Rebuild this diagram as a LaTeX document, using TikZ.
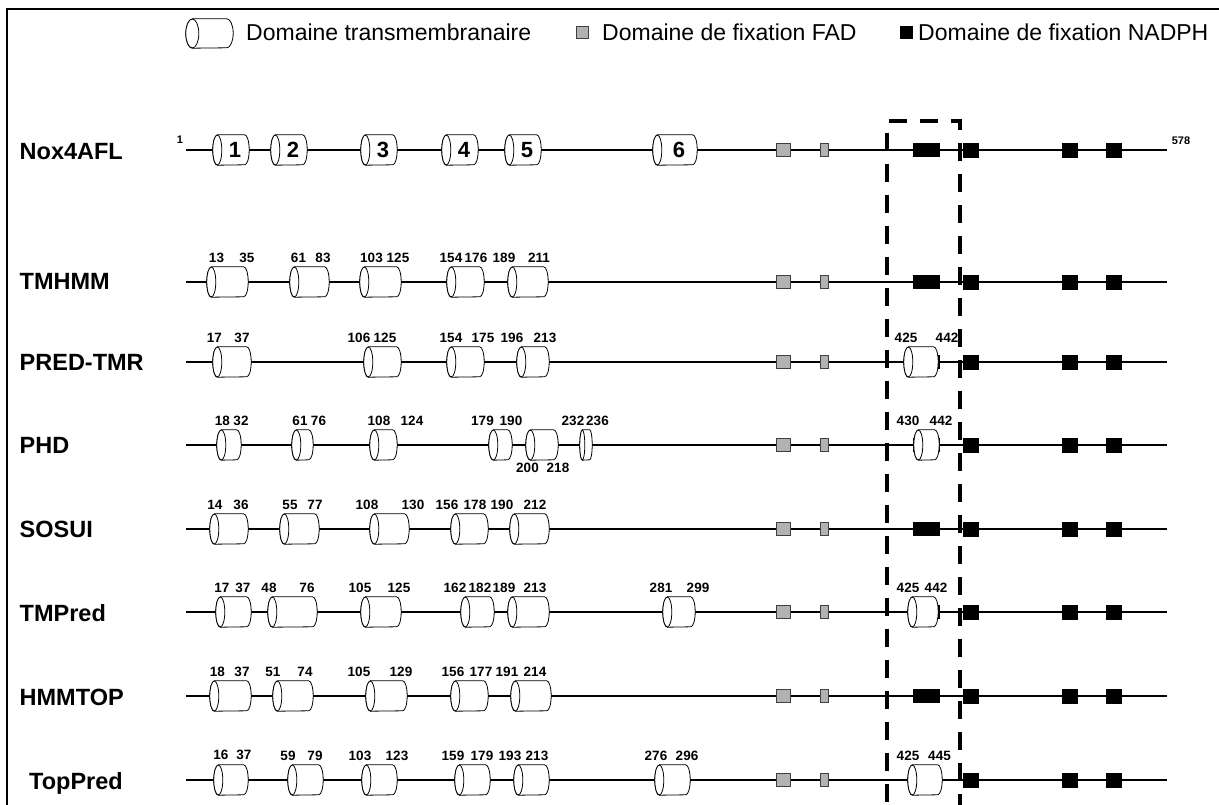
\documentclass[tikz,border=0pt]{standalone}
\usepackage{fontspec}
\setmainfont{Liberation Sans}

% radii of the helix ends
\def\tmrx{4.5pt}
\def\tmry{15pt}

% outline of a helix drawn round a (blank) node
\newcommand\cylshape[1]{%
  \path[tmline] ([xshift=\tmrx]#1.north west) -- ([xshift=-\tmrx]#1.north east)
    arc[start angle=90, end angle=-90, x radius=\tmrx, y radius=\tmry]
    -- ([xshift=\tmrx]#1.south west)
    arc[start angle=270, end angle=90, x radius=\tmrx, y radius=\tmry] -- cycle;
  \path[tmline] ([xshift=\tmrx]#1.west) ellipse[x radius=\tmrx, y radius=\tmry];
}

% name, left, right, row, first residue, its x, last residue, its x, shift of the numbers
\newcommand\helix[9]{%
  \node[tmbox, minimum width=#3pt-#2pt] (#1) at ({(#2+#3)/2},#4) {};
  \cylshape{#1}
  \node[num] (#1-a) at (#6,#4+#9) {#5};
  \node[num] (#1-b) at (#8,#4+#9) {#7};
}

% numbered helix of the full protein
\newcommand\noxhelix[4]{%
  \node[tmbox, minimum width=#3pt-#2pt] (#1) at ({(#2+#3)/2},150) {};
  \cylshape{#1}
  \node[noxnum] (#1-n) at ({(#2+#3)/2+4},150) {#4};
}

\begin{document}
\begin{tikzpicture}[
    x=1pt, y=-1pt,
    backbone/.style={line width=1.6pt},
    tmbox/.style={inner sep=0pt, minimum height=30pt},
    tmline/.style={draw=black, fill=white, line width=0.8pt},
    fad/.style={draw=black!75, fill=black!30, line width=0.6pt, inner sep=0pt, minimum height=13pt},
    nadph/.style={draw=black, fill=black, inner sep=0pt, minimum height=14pt},
    num/.style={font=\bfseries\fontsize{13.5}{14}\selectfont, inner sep=0pt},
    noxnum/.style={font=\bfseries\fontsize{22}{24}\selectfont, inner sep=0pt},
    ends/.style={font=\bfseries\fontsize{11}{12}\selectfont, inner sep=0pt},
    tool/.style={font=\bfseries\fontsize{23.5}{28}\selectfont, inner sep=0pt, anchor=base west},
    legend/.style={font=\fontsize{23}{27}\selectfont, inner sep=0pt, anchor=west},
    region/.style={line width=4pt, dash pattern=on 18pt off 13pt}
  ]
  \useasboundingbox (0,0) rectangle (1219,805);

  % frame
  \draw[line width=2pt] (7,805) -- (7,9) -- (1219,9);

  % legend
  \node[tmbox, minimum width=47pt, minimum height=29pt] (leg-tm) at (209.5,33.5) {};
  {\def\tmrx{6.5pt}\def\tmry{14.5pt}\cylshape{leg-tm}}
  \node[legend] (leg-tm-txt) at (246,32) {Domaine transmembranaire};
  \node[fad, minimum width=12pt, minimum height=12pt] (leg-fad) at (582,32) {};
  \node[legend] (leg-fad-txt) at (602,32) {Domaine de fixation FAD};
  \node[nadph, minimum width=12pt, minimum height=12pt] (leg-nad) at (906,32) {};
  \node[legend] (leg-nad-txt) at (918,32) {Domaine de fixation NADPH};

  % backbones with FAD and NADPH sites
  \foreach \row/\y in {nox/150, tmhmm/282, predtmr/362, phd/445, sosui/529, tmpred/612, hmmtop/696, toppred/780} {
    \coordinate (\row-start) at (186,\y);
    \coordinate (\row-end) at (1167,\y);
    \draw[backbone] (\row-start) -- (\row-end);
    \node[fad, minimum width=14pt] (\row-fad1) at (783,\y) {};
    \node[fad, minimum width=8pt] (\row-fad2) at (824,\y) {};
    \node[nadph, minimum width=26pt, minimum height=13pt] (\row-nad1) at (926,\y) {};
    \node[nadph, minimum width=15pt] (\row-nad2) at (971,\y) {};
    \node[nadph, minimum width=15pt] (\row-nad3) at (1070,\y) {};
    \node[nadph, minimum width=15pt] (\row-nad4) at (1114,\y) {};
  }

  % tool names
  \node[tool] (lab-nox) at (19.5,160) {Nox4AFL};
  \node[tool] (lab-tmhmm) at (19.5,290) {TMHMM};
  \node[tool] (lab-predtmr) at (19.5,370) {PRED-TMR};
  \node[tool] (lab-phd) at (19.5,453) {PHD};
  \node[tool] (lab-sosui) at (19.5,537) {SOSUI};
  \node[tool] (lab-tmpred) at (19.5,621) {TMPred};
  \node[tool] (lab-hmmtop) at (19.5,705) {HMMTOP};
  \node[tool] (lab-toppred) at (29,789) {TopPred};

  % Nox4AFL
  \node[ends] (nox-first) at (180,140) {1};
  \node[ends] (nox-last) at (1181,141) {578};
  \noxhelix{nox-1}{213}{249}{1}
  \noxhelix{nox-2}{271}{307}{2}
  \noxhelix{nox-3}{361}{397}{3}
  \noxhelix{nox-4}{442}{478}{4}
  \noxhelix{nox-5}{505}{541}{5}
  \noxhelix{nox-6}{653}{697}{6}

  % TMHMM
  \helix{tmhmm-1}{207}{248}{282}{13}{216.5}{35}{247}{-24}
  \helix{tmhmm-2}{290}{329}{282}{61}{298.5}{83}{323}{-24}
  \helix{tmhmm-3}{360}{401}{282}{103}{371.5}{125}{398}{-24}
  \helix{tmhmm-4}{447}{484}{282}{154}{451}{176}{476}{-24}
  \helix{tmhmm-5}{508}{548}{282}{189}{504}{211}{539}{-24}

  % PRED-TMR
  \helix{predtmr-1}{213}{251}{362}{17}{214.5}{37}{242}{-24}
  \helix{predtmr-2}{364}{401}{362}{106}{359}{125}{385}{-24}
  \helix{predtmr-3}{447}{484}{362}{154}{451}{175}{483}{-24}
  \helix{predtmr-4}{517}{549}{362}{196}{512}{213}{545}{-24}
  \helix{predtmr-5}{904}{938}{362}{425}{906}{442}{947}{-24}

  % PHD
  \helix{phd-1}{217}{241}{445}{18}{222.5}{32}{241}{-24}
  \helix{phd-2}{292}{313}{445}{61}{300}{76}{318.5}{-24}
  \helix{phd-3}{370}{397}{445}{108}{379}{124}{412}{-24}
  \helix{phd-4}{489}{512}{445}{179}{482.5}{190}{511}{-24}
  \helix{phd-5}{526}{558}{445}{200}{527.5}{218}{558}{23}
  {\def\tmrx{2.5pt}\helix{phd-6}{580}{592}{445}{232}{573}{236}{597.5}{-24}}
  \helix{phd-7}{914}{939}{445}{430}{908}{442}{941}{-24}

  % SOSUI
  \helix{sosui-1}{210}{248}{529}{14}{215}{36}{241}{-24}
  \helix{sosui-2}{280}{319}{529}{55}{290}{77}{315}{-24}
  \helix{sosui-3}{370}{409}{529}{108}{367}{130}{413}{-24}
  \helix{sosui-4}{451}{488}{529}{156}{447}{178}{475}{-24}
  \helix{sosui-5}{510}{549}{529}{190}{502}{212}{535}{-24}

  % TMPred
  \helix{tmpred-1}{216}{251}{612}{17}{222}{37}{243}{-24}
  \helix{tmpred-2}{268}{317}{612}{48}{269}{76}{307}{-24}
  \helix{tmpred-3}{361}{401}{612}{105}{360}{125}{399}{-24}
  \helix{tmpred-4}{461}{494}{612}{162}{455}{182}{480}{-24}
  \helix{tmpred-5}{508}{549}{612}{189}{504}{213}{535}{-24}
  \helix{tmpred-6}{663}{695}{612}{281}{661}{299}{698}{-24}
  \helix{tmpred-7}{908}{938}{612}{425}{908}{442}{936}{-24}

  % HMMTOP
  \helix{hmmtop-1}{210}{251}{696}{18}{217.5}{37}{242}{-24}
  \helix{hmmtop-2}{273}{313}{696}{51}{273}{74}{305}{-24}
  \helix{hmmtop-3}{366}{407}{696}{105}{359}{129}{401}{-24}
  \helix{hmmtop-4}{451}{488}{696}{156}{453}{177}{481}{-24}
  \helix{hmmtop-5}{511}{551}{696}{191}{507}{214}{535}{-24}

  % TopPred
  \helix{toppred-1}{214}{248}{780}{16}{221}{37}{244}{-25}
  \helix{toppred-2}{288}{323}{780}{59}{288}{79}{315}{-24}
  \helix{toppred-3}{362}{397}{780}{103}{360}{123}{397}{-24}
  \helix{toppred-4}{455}{490}{780}{159}{453}{179}{482}{-24}
  \helix{toppred-5}{514}{549}{780}{193}{510}{213}{537}{-24}
  \helix{toppred-6}{655}{690}{780}{276}{656}{296}{687}{-24}
  \helix{toppred-7}{908}{942}{780}{425}{908}{445}{939.5}{-24}

  % region around the 425-442 helix
  \draw[region, dash phase=19pt] (887,121) -- (887,805);
  \draw[region, dash phase=29pt] (887,121) -- (960,121) -- (960,805);
\end{tikzpicture}
\end{document}
